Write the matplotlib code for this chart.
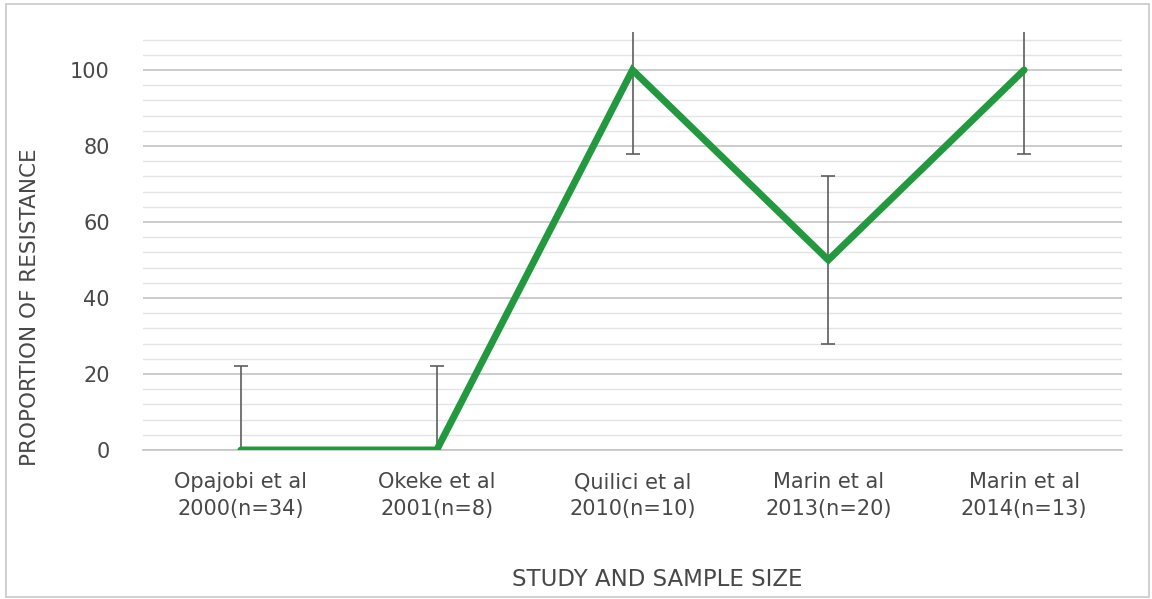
import matplotlib
matplotlib.use("Agg")
import matplotlib.pyplot as plt
from matplotlib.patches import Rectangle
import numpy as np

# Study labels and resistance proportions
studies = ["Opajobi et al\n2000(n=34)", "Okeke et al\n2001(n=8)", "Quilici et al\n2010(n=10)",
           "Marin et al\n2013(n=20)", "Marin et al\n2014(n=13)"]
resistance = [0, 0, 100, 50, 100]
error = [22, 22, 22, 22, 22]

plt.rcParams['font.family'] = ['DejaVu Sans']
text_color = "#484848"

fig = plt.figure(figsize=(11.52, 5.99), dpi=100)
ax = fig.add_axes([143/1152, 1-450/599, (1122-143)/1152, (450-32)/599])

x = np.arange(len(studies))

ax.errorbar(x, resistance, yerr=error, fmt="none", ecolor="#5e5e5e",
            elinewidth=1.2, capsize=5, capthick=1.2, zorder=3)
ax.plot(x, resistance, color="#22983f", lw=5, solid_capstyle="round",
        solid_joinstyle="miter", zorder=4)

ax.set_xlim(-0.5, len(studies) - 0.5)
ax.set_ylim(0, 110)
ax.set_yticks(np.arange(0, 101, 20))
ax.set_yticks(np.arange(4, 109, 4), minor=True)
ax.grid(which="major", axis="y", color="#c4c4c4", lw=1.2)
ax.grid(which="minor", axis="y", color="#e4e4e4", lw=1.0)
ax.set_axisbelow(True)

ax.set_xticks(x)
ax.set_xticklabels(studies, fontsize=15, color=text_color, linespacing=1.45)
ax.tick_params(axis="y", which="both", length=0, pad=24, labelsize=15, labelcolor=text_color)
ax.tick_params(axis="x", which="both", length=0, pad=16)
for s in ["top", "right", "left"]:
    ax.spines[s].set_visible(False)
ax.spines["bottom"].set_color("#c4c4c4")
ax.spines["bottom"].set_linewidth(1.2)

fig.text(30/1152, 1-307/599, "PROPORTION OF RESISTANCE", rotation=90,
         ha="center", va="center", fontsize=15.5, color=text_color)
fig.text(657/1152, 1-580/599, "STUDY AND SAMPLE SIZE",
         ha="center", va="center", fontsize=16.5, color=text_color)

fig.patches.append(Rectangle((6/1152, 1-597/599), (1149-6)/1152, (597-4)/599,
                             transform=fig.transFigure, fill=False,
                             edgecolor="#c8c8c8", lw=1.2))

fig.savefig("out.png", dpi=100)
